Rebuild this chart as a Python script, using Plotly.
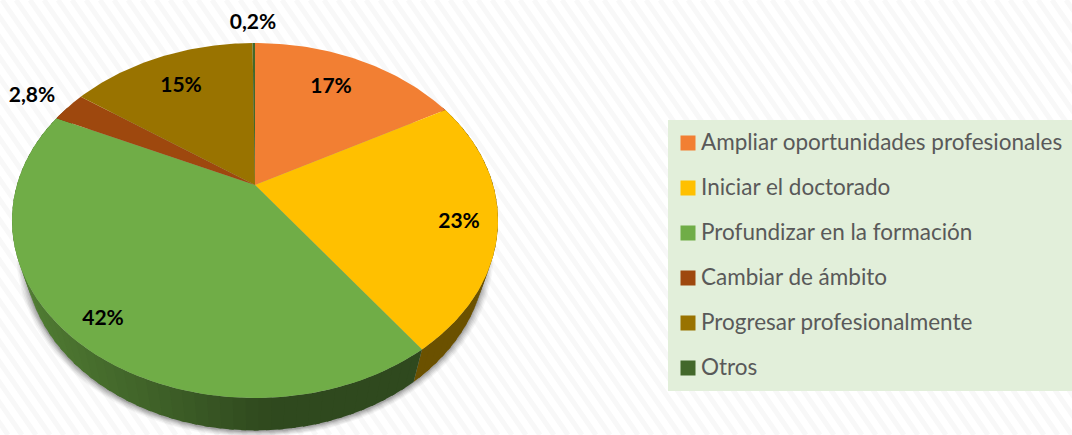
import math
import plotly.graph_objects as go

# ---- data ----
categories = ["Ampliar oportunidades profesionales", "Iniciar el doctorado",
              "Profundizar en la formación", "Cambiar de ámbito",
              "Progresar profesionalmente", "Otros"]
values = [17, 23, 42, 2.8, 15, 0.2]
value_labels = ["17%", "23%", "42%", "2,8%", "15%", "0,2%"]
colors = ["#F27F33", "#FFC000", "#70AD47", "#9E480E", "#997300", "#43682B"]

# ---- layout / projection constants ----
W, H = 1072, 435
CX, CY = 255, 185          # apex of the tilted pie
A, B, K = 238.1, 170.4, 0.2
DEPTH, SIDE_SCALE = 32.5, 0.95
label_xy = [(331, 88), (459, 223), (103, 320), (32, 97), (181, 87), (253, 24)]
legend_y = [141, 186, 231, 276, 321, 366]
swatch_y = [143, 188, 233, 278, 323, 368]
LABEL_FONT = "Lato"


def rim(theta_deg, r=1.0):
    t = math.radians(theta_deg)
    u, v = r * math.sin(t), r * math.cos(t)
    w = 1 + K * v
    return CX + A * u / w, CY - B * v / w


def low(theta_deg, grow=0.0, dx=0.0, dy=0.0):
    x, y = rim(theta_deg)
    return (CX + (x - CX) * (SIDE_SCALE + grow) + dx,
            y + DEPTH + (y - 220.5) * grow + dy)


def shade(hex_color, f):
    r, g, b = (int(hex_color[i:i + 2], 16) for i in (1, 3, 5))
    return f"rgb({round(r * f)},{round(g * f)},{round(b * f)})"


total = sum(values)
edges = [0.0]
for val in values:
    edges.append(edges[-1] + val / total * 360)

fig = go.Figure()

# soft drop shadow
for grow, alpha in [(0.032, 0.05), (0.026, 0.07), (0.020, 0.09), (0.014, 0.11), (0.008, 0.13), (0.003, 0.15)]:
    pts = [low(a, grow, 0, 1) for a in range(0, 361, 3)]
    fig.add_trace(go.Scatter(x=[p[0] for p in pts], y=[p[1] for p in pts], mode="lines",
                             fill="toself", fillcolor=f"rgba(70,70,70,{alpha})",
                             line=dict(width=0), hoverinfo="skip", showlegend=False))

# side wall, in shaded strips that overlap their neighbour to hide seams
for i, (start, end) in enumerate(zip(edges[:-1], edges[1:])):
    lo, hi = max(start, 60), min(end, 300)
    if hi <= lo:
        continue
    n = max(1, int((hi - lo) / 2.5))
    for j in range(n):
        a0 = lo + (hi - lo) * j / n
        a1 = lo + (hi - lo) * (j + 1) / n
        a2 = min(hi, a1 + 1.0)
        arc = [a0, (a0 + a2) / 2, a2]
        p = [rim(a) for a in arc] + [low(a) for a in reversed(arc)] + [rim(a0)]
        xm = (rim(a0)[0] + rim(a1)[0]) / 2
        f = 0.42 if xm >= 270 else 0.42 + 0.30 * (270 - xm) / 250
        col = shade(colors[i], f)
        fig.add_trace(go.Scatter(x=[q[0] for q in p], y=[q[1] for q in p], mode="lines",
                                 fill="toself", fillcolor=col, line=dict(width=0),
                                 hoverinfo="skip", showlegend=False))

# top surface wedges
for i, (start, end) in enumerate(zip(edges[:-1], edges[1:])):
    n = max(2, int((end - start) / 1.0))
    pts = [(CX, CY)] + [rim(start + (end - start) * j / n) for j in range(n + 1)] + [(CX, CY)]
    fig.add_trace(go.Scatter(x=[q[0] for q in pts], y=[q[1] for q in pts], mode="lines",
                             fill="toself", fillcolor=colors[i], line=dict(width=0),
                             name=categories[i], hovertemplate="%{fullData.name}<extra></extra>",
                             showlegend=False))

# value labels
fig.add_trace(go.Scatter(x=[p[0] for p in label_xy], y=[p[1] for p in label_xy], mode="text",
                         text=[f"<b>{t}</b>" for t in value_labels], textposition="middle center",
                         textfont=dict(family=LABEL_FONT, size=21, color="#000000"),
                         hoverinfo="skip", showlegend=False))

# legend swatches and texts
fig.add_trace(go.Scatter(x=[688] * len(categories), y=swatch_y, mode="markers",
                         marker=dict(symbol="square", size=15, color=colors, line=dict(width=0)),
                         hoverinfo="skip", showlegend=False))
annotations = [dict(x=699, y=y, text=c, xanchor="left", yanchor="middle", showarrow=False,
                    xref="x", yref="y",
                    font=dict(family=LABEL_FONT, size=22.5, color="#595959"))
               for c, y in zip(categories, legend_y)]

# faint diagonal weave of the page background
stripes = "".join(f"M {x} 0 L {x + 300} {H} " for x in range(-320, W + 20, 14))
shapes = [
    dict(type="path", path=stripes, line=dict(color="#F8F8F8", width=5), layer="below"),
    dict(type="rect", x0=668, x1=W, y0=120, y1=391, fillcolor="#E2EFDA",
         line=dict(width=0), layer="below"),
]

fig.update_layout(
    width=W, height=H, margin=dict(l=0, r=0, t=0, b=0, pad=0),
    paper_bgcolor="#FFFFFF", plot_bgcolor="#FFFFFF", showlegend=False,
    xaxis=dict(range=[0, W], visible=False, fixedrange=True),
    yaxis=dict(range=[H, 0], visible=False, fixedrange=True),
    shapes=shapes, annotations=annotations,
)
fig.write_html("out.html", config=dict(displayModeBar=False),
               post_script="document.body.style.margin='0';document.body.style.overflow='hidden';")
